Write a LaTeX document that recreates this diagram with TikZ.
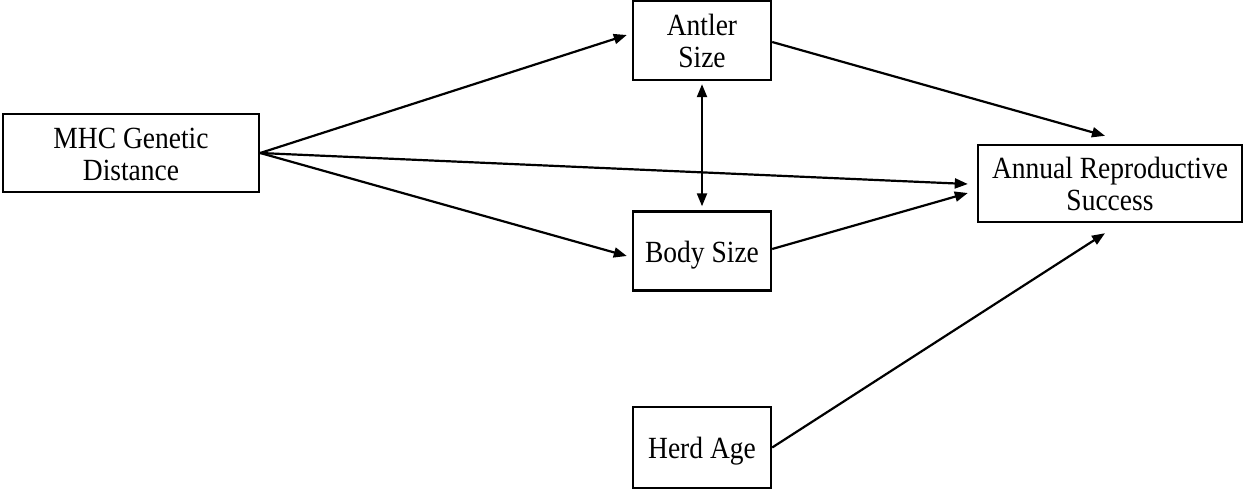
\documentclass[tikz,border=0pt]{standalone}
\usepackage{fontspec}
\setmainfont{Liberation Serif}
\usetikzlibrary{arrows.meta,calc}
% slightly tall lettering for the box labels, set a little low in the box
\newcommand{\boxlabel}[1]{\raisebox{-2.5pt}[\height][\depth]{\scalebox{1}[1.12]{\begin{tabular}{@{}c@{}}#1\end{tabular}}}}
\begin{document}
\begin{tikzpicture}[x=0.5pt,y=-0.5pt,
  box/.style={draw=black,line width=1.2pt,fill=white,inner sep=0pt,align=center,
    font=\fontsize{13.75}{14.2}\selectfont},
  link/.style={line width=1.1pt,-{Triangle[length=6.5pt,width=5pt]}},
  twoway/.style={line width=1.1pt,{Triangle[length=6.5pt,width=5pt]}-{Triangle[length=6.5pt,width=5pt]}}]
\useasboundingbox (0,0) rectangle (1243,489);
% variables
\node[box,minimum width=128pt,minimum height=39pt] (mhc) at (131,153) {\boxlabel{MHC Genetic\\Distance}};
\node[box,minimum width=69pt,minimum height=39.5pt] (antler) at (702,40.5) {\boxlabel{Antler\\Size}};
\node[box,minimum width=69pt,minimum height=39.5pt] (body) at (702,251) {\boxlabel{Body Size}};
\node[box,minimum width=69pt,minimum height=40.5pt] (herd) at (702,447.5) {\boxlabel{Herd Age}};
\node[box,minimum width=132pt,minimum height=38.5pt] (ars) at (1110,183.5) {\boxlabel{Annual Reproductive\\Success}};
% paths
\draw[link] (mhc.east) -- ($(antler.west)+(-5,-5.5)$);
\draw[link] (mhc.east) -- ($(body.west)+(-5,5)$);
\draw[link] (mhc.east) -- ($(ars.west)+(-9,0.5)$);
\draw[link] ($(antler.east)+(0,1.5)$) -- ($(ars.north)+(-5,-8)$);
\draw[link] ($(body.east)+(0,-2)$) -- ($(ars.west)+(-9,9.5)$);
\draw[link] (herd.east) -- ($(ars.south)+(-5,10)$);
\draw[twoway] ($(antler.south)+(0,3)$) -- ($(body.north)+(0,-4)$);
\end{tikzpicture}
\end{document}
